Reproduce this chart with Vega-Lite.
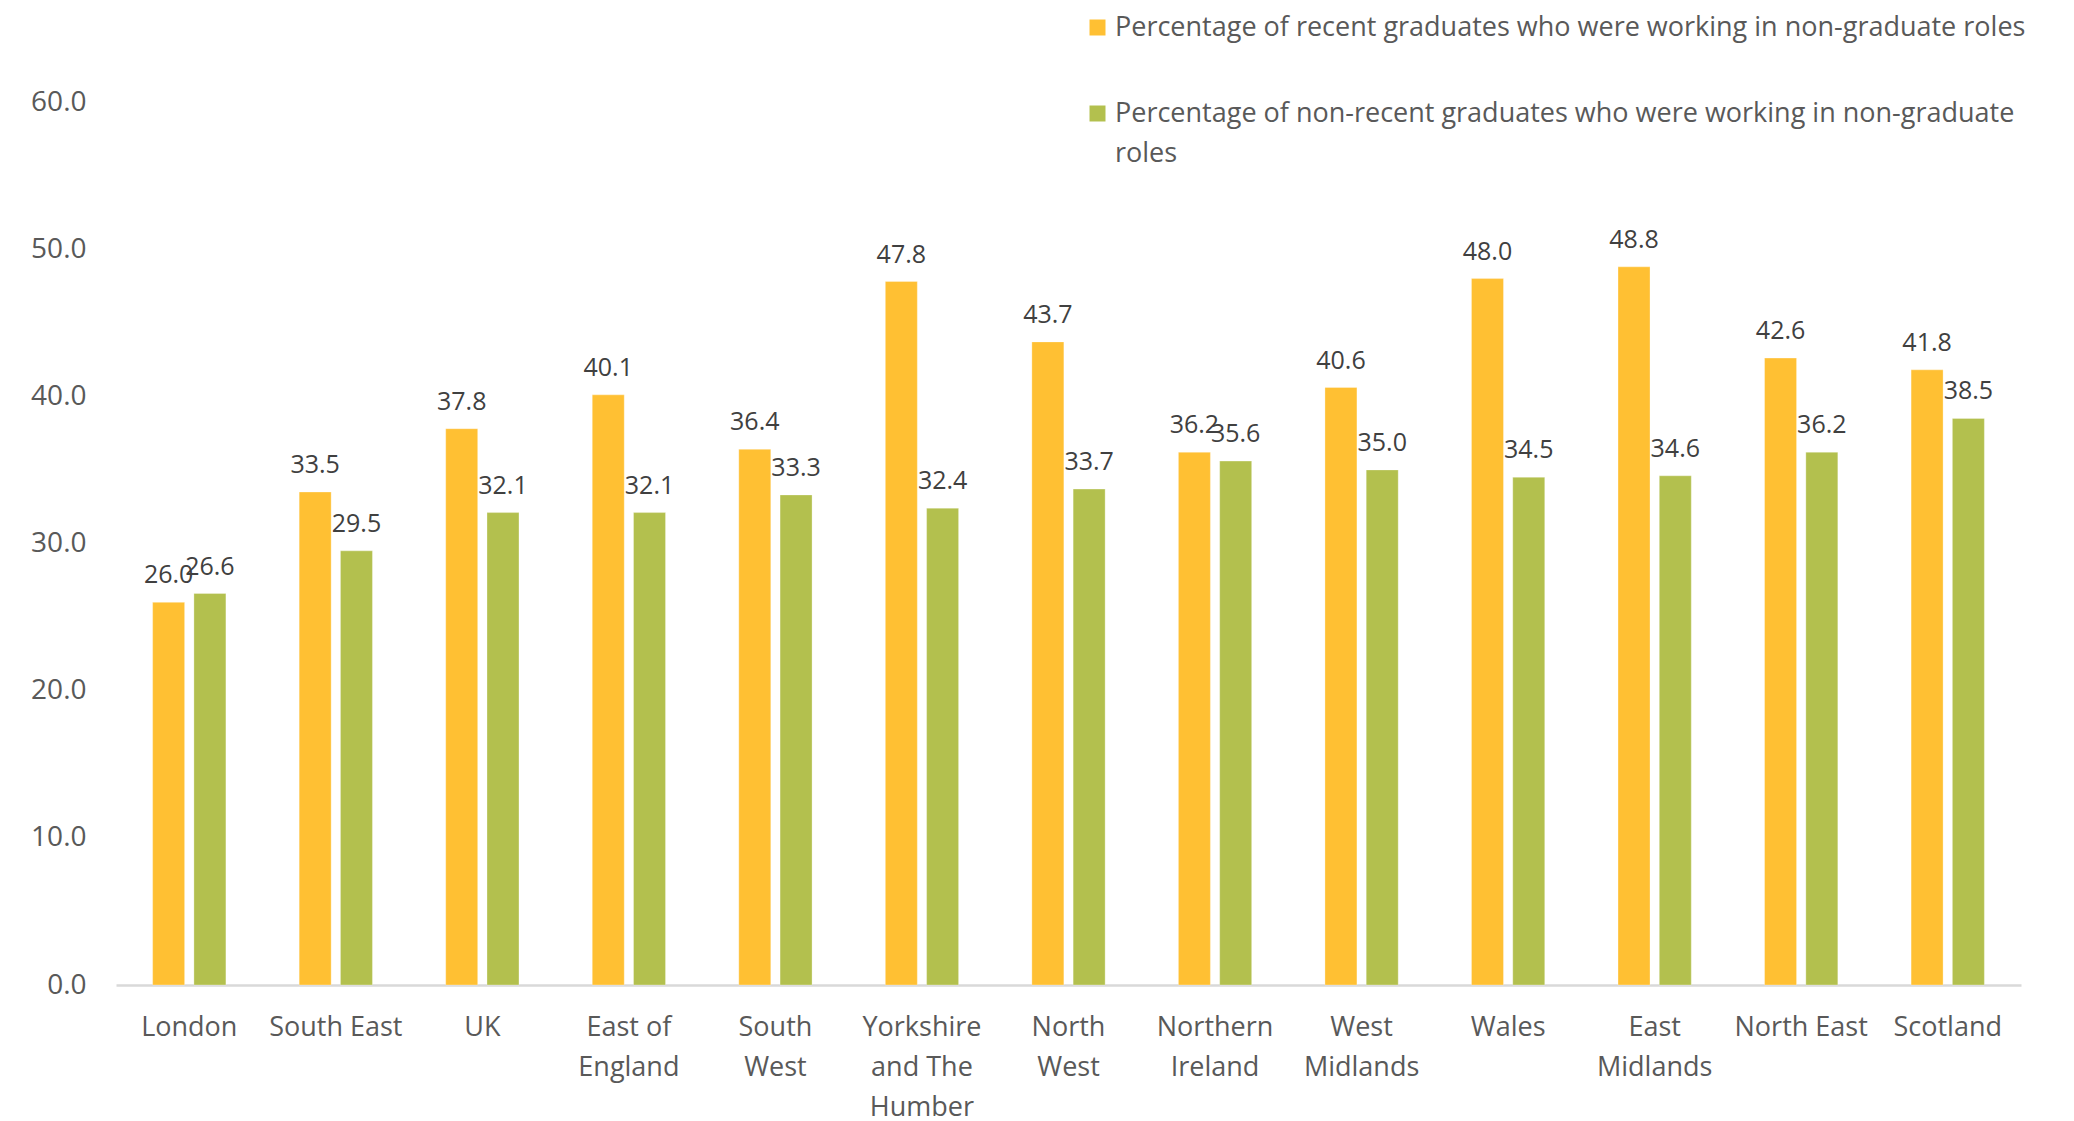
{
  "$schema": "https://vega.github.io/schema/vega-lite/v6.json",
  "autosize": "none",
  "width": 1905,
  "height": 883,
  "padding": {"left": 116, "top": 102, "right": 53, "bottom": 136},
  "background": "white",
  "config": {
    "font": "Open Sans",
    "view": {"stroke": null},
    "style": {"guide-label": {"lineHeight": 40}}
  },
  "data": {
    "values": [
      {"region": "London", "series": "Percentage of recent graduates who were working in non-graduate roles", "value": 26.0},
      {"region": "London", "series": "Percentage of non-recent graduates who were working in non-graduate roles", "value": 26.6},
      {"region": "South East", "series": "Percentage of recent graduates who were working in non-graduate roles", "value": 33.5},
      {"region": "South East", "series": "Percentage of non-recent graduates who were working in non-graduate roles", "value": 29.5},
      {"region": "UK", "series": "Percentage of recent graduates who were working in non-graduate roles", "value": 37.8},
      {"region": "UK", "series": "Percentage of non-recent graduates who were working in non-graduate roles", "value": 32.1},
      {"region": "East of England", "series": "Percentage of recent graduates who were working in non-graduate roles", "value": 40.1},
      {"region": "East of England", "series": "Percentage of non-recent graduates who were working in non-graduate roles", "value": 32.1},
      {"region": "South West", "series": "Percentage of recent graduates who were working in non-graduate roles", "value": 36.4},
      {"region": "South West", "series": "Percentage of non-recent graduates who were working in non-graduate roles", "value": 33.3},
      {"region": "Yorkshire and The Humber", "series": "Percentage of recent graduates who were working in non-graduate roles", "value": 47.8},
      {"region": "Yorkshire and The Humber", "series": "Percentage of non-recent graduates who were working in non-graduate roles", "value": 32.4},
      {"region": "North West", "series": "Percentage of recent graduates who were working in non-graduate roles", "value": 43.7},
      {"region": "North West", "series": "Percentage of non-recent graduates who were working in non-graduate roles", "value": 33.7},
      {"region": "Northern Ireland", "series": "Percentage of recent graduates who were working in non-graduate roles", "value": 36.2},
      {"region": "Northern Ireland", "series": "Percentage of non-recent graduates who were working in non-graduate roles", "value": 35.6},
      {"region": "West Midlands", "series": "Percentage of recent graduates who were working in non-graduate roles", "value": 40.6},
      {"region": "West Midlands", "series": "Percentage of non-recent graduates who were working in non-graduate roles", "value": 35.0},
      {"region": "Wales", "series": "Percentage of recent graduates who were working in non-graduate roles", "value": 48.0},
      {"region": "Wales", "series": "Percentage of non-recent graduates who were working in non-graduate roles", "value": 34.5},
      {"region": "East Midlands", "series": "Percentage of recent graduates who were working in non-graduate roles", "value": 48.8},
      {"region": "East Midlands", "series": "Percentage of non-recent graduates who were working in non-graduate roles", "value": 34.6},
      {"region": "North East", "series": "Percentage of recent graduates who were working in non-graduate roles", "value": 42.6},
      {"region": "North East", "series": "Percentage of non-recent graduates who were working in non-graduate roles", "value": 36.2},
      {"region": "Scotland", "series": "Percentage of recent graduates who were working in non-graduate roles", "value": 41.8},
      {"region": "Scotland", "series": "Percentage of non-recent graduates who were working in non-graduate roles", "value": 38.5}
    ]
  },
  "encoding": {
    "x": {
      "field": "region",
      "type": "nominal",
      "sort": null,
      "scale": {"paddingInner": 0.5, "paddingOuter": 0.25},
      "axis": {
        "title": null,
        "labelAngle": 0,
        "ticks": false,
        "domainColor": "#D9D9D9",
        "domainWidth": 2.5,
        "labelFontSize": 27,
        "labelColor": "#595959",
        "labelPadding": 29,
        "labelBaseline": "top",
        "labelLineHeight": 40,
        "labelExpr": "datum.label == 'Yorkshire and The Humber' ? ['Yorkshire', 'and The', 'Humber'] : datum.label == 'East of England' ? ['East of', 'England'] : indexof(['South West', 'North West', 'Northern Ireland', 'West Midlands', 'East Midlands'], datum.label) >= 0 ? split(datum.label, ' ') : datum.label"
      }
    },
    "xOffset": {
      "field": "series",
      "type": "nominal",
      "sort": null,
      "scale": {"paddingInner": 0.225, "paddingOuter": 0}
    },
    "y": {
      "field": "value",
      "type": "quantitative",
      "scale": {"domain": [0, 60]},
      "axis": {
        "title": null,
        "values": [0, 10, 20, 30, 40, 50, 60],
        "format": ".1f",
        "domain": false,
        "ticks": false,
        "grid": false,
        "labelFontSize": 28,
        "labelColor": "#595959",
        "labelPadding": 30
      }
    }
  },
  "layer": [
    {
      "mark": {"type": "bar", "stroke": "#FFFFFF", "strokeWidth": 0.5, "strokeOpacity": 0.6},
      "encoding": {
        "color": {
          "field": "series",
          "type": "nominal",
          "sort": null,
          "scale": {"range": ["#FFC033", "#B3C04E"]},
          "legend": {
            "title": null,
            "orient": "none",
            "legendX": 968,
            "legendY": -88,
            "direction": "vertical",
            "symbolType": "square",
            "symbolSize": 256,
            "symbolStrokeWidth": 0,
            "labelFontSize": 27,
            "labelColor": "#595959",
            "labelLimit": 1100,
            "labelOffset": 4,
            "rowPadding": 58,
            "labelExpr": "datum.label == 'Percentage of non-recent graduates who were working in non-graduate roles' ? ['Percentage of non-recent graduates who were working in non-graduate', 'roles'] : datum.label"
          }
        }
      }
    },
    {
      "mark": {"type": "text", "baseline": "bottom", "dy": -14, "fontSize": 25, "color": "#404040"},
      "encoding": {
        "text": {"field": "value", "type": "quantitative", "format": ".1f"}
      }
    }
  ]
}
